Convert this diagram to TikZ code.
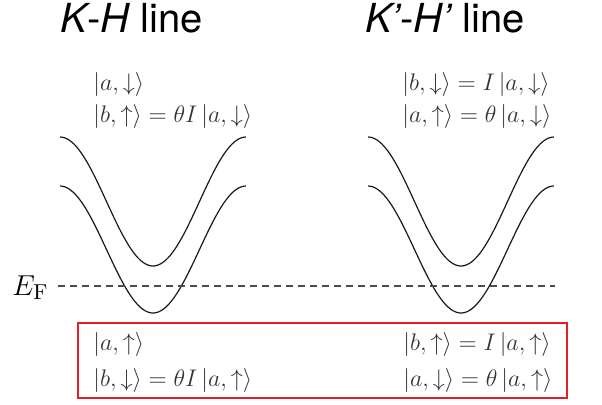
\documentclass[tikz,border=0pt]{standalone}
\usepackage{fontspec}
\newfontfamily\headfont{TeX Gyre Heros}
\definecolor{boxred}{HTML}{E31E24}
\newcommand{\kt}[1]{\left|#1\right\rangle}
\tikzset{
  band/.style={line width=0.6pt, black!90},
  ketline/.style={anchor=base west, inner sep=0pt, text=black!80, font=\fontsize{11.5}{13}\selectfont},
  headline/.style={anchor=base, inner sep=0pt, font=\headfont\fontsize{20}{23}\selectfont},
  fermi/.style={dash pattern=on 3.5pt off 2.5pt, black!70, line width=0.6pt},
  redbox/.style={draw=boxred, line width=1pt},
}
\begin{document}
\begin{tikzpicture}[x=0.5pt, y=-0.5pt]
  \useasboundingbox (0,0) rectangle (602,404);
  % ==================== left: K-H line ====================
  \node[headline] (titleKH) at (132,32) {{\itshape K}-{\itshape H} line};
  \node[ketline] (ketKHa) at (93,90.5) {$\kt{a,\downarrow}$};
  \node[ketline] (ketKHb) at (93,122.5) {$\kt{b,\uparrow} = \theta I \kt{a,\downarrow}$};
  \begin{scope}
    % two bands
    \draw[band] plot[domain=0:1, samples=80] ({60+186*\x}, {137+129*(1-cos(360*\x))/2});
    \draw[band] plot[domain=0:1, samples=80] ({60+186*\x}, {186+127*(1-cos(360*\x))/2});
  \end{scope}

  % ==================== right: K'-H' line ====================
  \node[headline] (titleKHp) at (445,32) {{\itshape K’}-{\itshape H’} line};
  \node[ketline] (ketKHpa) at (402,90.5) {$\kt{b,\downarrow} = I \kt{a,\downarrow}$};
  \node[ketline] (ketKHpb) at (402,122.5) {$\kt{a,\uparrow} = \theta \kt{a,\downarrow}$};
  \begin{scope}[shift={(308,0)}]
    % two bands
    \draw[band] plot[domain=0:1, samples=80] ({60+186*\x}, {137+129*(1-cos(360*\x))/2});
    \draw[band] plot[domain=0:1, samples=80] ({60+186*\x}, {186+127*(1-cos(360*\x))/2});
  \end{scope}

  % ==================== Fermi level ====================
  \node[anchor=base west, inner sep=0pt, font=\fontsize{15.4}{18}\selectfont] (EF) at (12,295) {$E_{\mathrm{F}}$};
  \coordinate (fermiL) at (58,286);
  \coordinate (fermiR) at (555,286);
  \draw[fermi] (fermiL) -- (fermiR);

  % ==================== boxed states ====================
  \draw[redbox] (78,323) rectangle (567,398);
  \node[ketline] (ketBa) at (93,350.5) {$\kt{a,\uparrow}$};
  \node[ketline] (ketBb) at (93,386.5) {$\kt{b,\downarrow} = \theta I \kt{a,\uparrow}$};
  \node[ketline] (ketBpa) at (403,350.5) {$\kt{b,\uparrow} = I \kt{a,\uparrow}$};
  \node[ketline] (ketBpb) at (403,386.5) {$\kt{a,\downarrow} = \theta \kt{a,\uparrow}$};
\end{tikzpicture}
\end{document}
